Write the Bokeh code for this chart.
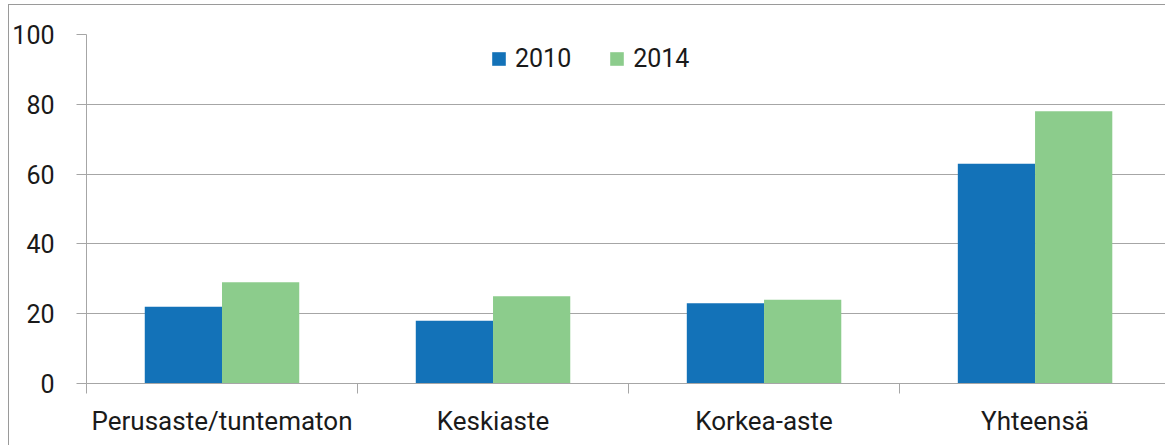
import numpy as np
from bokeh.plotting import figure
from bokeh.models import (ColumnDataSource, Range1d, FixedTicker, Legend, LegendItem)
from bokeh.transform import dodge
from bokeh.embed import file_html
from bokeh.resources import INLINE

categories = ["Perusaste/tuntematon", "Keskiaste", "Korkea-aste", "Yhteensä"]
v2010 = [22, 18, 23, 63]
v2014 = [29, 25, 24, 78]
series_names = ["2010", "2014"]
y_ticks = [0, 20, 40, 60, 80, 100]

FONT = "Roboto"
FS = "25px"
GRID = "#a6a6a6"

xc = np.arange(len(categories)) + 0.5
src = ColumnDataSource(data=dict(x=xc, a=v2010, b=v2014, cat=categories))

p = figure(width=1157, height=441, output_backend="svg", toolbar_location=None,
           x_range=Range1d(0, 3.985), y_range=Range1d(0, 100),
           min_border_left=77, min_border_right=0, min_border_top=29,
           min_border_bottom=63)
p.styles = {"border-left": "1px solid #9a9a9a", "border-top": "1px solid #9a9a9a",
            "margin-left": "8px", "margin-top": "4px"}
p.outline_line_color = None

bw = 0.285
r1 = p.vbar(x=dodge("x", -bw / 2, range=p.x_range), top="a", width=bw, source=src,
            fill_color="#1372b8", line_color=None)
r2 = p.vbar(x=dodge("x", bw / 2, range=p.x_range), top="b", width=bw, source=src,
            fill_color="#8ccc8c", line_color=None)

# x axis
xa = p.xaxis[0]
xa.ticker = FixedTicker(ticks=list(xc), minor_ticks=list(range(len(categories) + 1)))
xa.major_label_overrides = {float(x): c for x, c in zip(xc, categories)}
xa.major_tick_out = 0
xa.major_tick_in = 0
xa.minor_tick_out = 10
xa.minor_tick_in = 0
xa.minor_tick_line_color = GRID
xa.axis_line_color = GRID
xa.major_label_text_font = FONT
xa.major_label_text_font_size = "26px"
xa.major_label_text_color = "#1a1a1a"
xa.major_label_standoff = 12
p.xgrid.grid_line_color = None

# y axis
ya = p.yaxis[0]
ya.ticker = FixedTicker(ticks=y_ticks, minor_ticks=[])
ya.major_tick_out = 10
ya.major_tick_in = 0
ya.major_tick_line_color = GRID
ya.axis_line_color = GRID
ya.major_label_text_font = FONT
ya.major_label_text_font_size = FS
ya.major_label_text_color = "#1a1a1a"
ya.major_label_standoff = 22
p.ygrid.ticker = FixedTicker(ticks=y_ticks)
p.ygrid.grid_line_color = GRID

legend = Legend(items=[LegendItem(label=series_names[0], renderers=[r1]),
                       LegendItem(label=series_names[1], renderers=[r2])],
                orientation="horizontal", location=(404, 310),
                padding=0, margin=0, spacing=37, label_standoff=8,
                glyph_width=17, glyph_height=17,
                label_text_font=FONT, label_text_font_size=FS,
                label_text_color="#1a1a1a",
                border_line_color=None, background_fill_alpha=0)
p.add_layout(legend)

open("out.html", "w").write(file_html(p, INLINE))
